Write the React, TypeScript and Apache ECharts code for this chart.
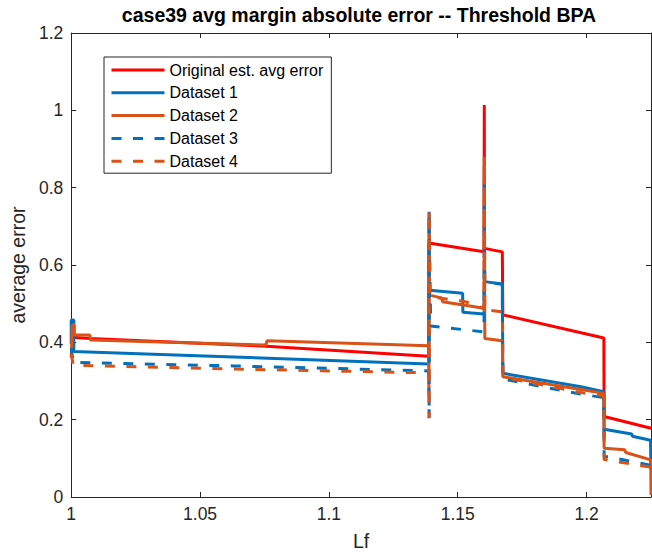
import React, { useEffect, useRef } from 'react';
import * as echarts from 'echarts';

// Axis ticks
const lfTicks = [1, 1.05, 1.1, 1.15, 1.2];
const errTicks = [0, 0.2, 0.4, 0.6, 0.8, 1, 1.2];

const seriesNames = [
  'Original est. avg error',
  'Dataset 1',
  'Dataset 2',
  'Dataset 3',
  'Dataset 4',
];

// [Lf, average error] step traces
const originalErr: [number, number][] = [
  [1.0, 0.413], [1.0074, 0.41], [1.0757, 0.39], [1.1387, 0.364],
  [1.1388, 0.364], [1.1388, 0.657], [1.1602, 0.634], [1.1603, 1.014],
  [1.1604, 0.643], [1.1673, 0.634], [1.1675, 0.471], [1.2067, 0.411],
  [1.2068, 0.208], [1.225, 0.178],
];

const dataset1Err: [number, number][] = [
  [1.0, 0.395], [1.0, 0.458], [1.001, 0.458], [1.001, 0.376], [1.063, 0.362],
  [1.1388, 0.344], [1.1389, 0.738], [1.139, 0.535], [1.1519, 0.527],
  [1.152, 0.478], [1.1602, 0.473], [1.1604, 0.557], [1.1673, 0.551],
  [1.1675, 0.32], [1.1978, 0.285], [1.2067, 0.272], [1.2068, 0.175],
  [1.2175, 0.163], [1.2178, 0.157], [1.2248, 0.147], [1.225, 0.07],
];

const dataset2Err: [number, number][] = [
  [1.0, 0.36], [1.0004, 0.445], [1.0012, 0.445], [1.0012, 0.419],
  [1.0072, 0.419], [1.0075, 0.406], [1.0755, 0.393], [1.076, 0.404],
  [1.1387, 0.391], [1.1388, 0.27], [1.1389, 0.736], [1.139, 0.522],
  [1.1437, 0.515], [1.1441, 0.505], [1.1602, 0.488], [1.1603, 0.88],
  [1.1605, 0.41], [1.1673, 0.404], [1.1675, 0.311], [1.1978, 0.278],
  [1.2067, 0.268], [1.2068, 0.126], [1.2148, 0.122], [1.2152, 0.115],
  [1.2249, 0.096], [1.225, 0.005],
];

const dataset3Err: [number, number][] = [
  [1.0, 0.385], [1.0008, 0.348], [1.063, 0.339], [1.1388, 0.326],
  [1.1389, 0.204], [1.1389, 0.73], [1.1395, 0.442], [1.1602, 0.427],
  [1.1603, 0.825], [1.1605, 0.556], [1.1673, 0.55], [1.1675, 0.305],
  [1.1978, 0.266], [1.2067, 0.257], [1.2068, 0.105], [1.2085, 0.104],
  [1.225, 0.082],
];

const dataset4Err: [number, number][] = [
  [1.0, 0.37], [1.0008, 0.341], [1.063, 0.331], [1.1388, 0.321],
  [1.1389, 0.204], [1.1389, 0.735], [1.1392, 0.518], [1.153, 0.505],
  [1.1602, 0.487], [1.1603, 0.86], [1.1605, 0.484], [1.1673, 0.479],
  [1.1675, 0.31], [1.1978, 0.27], [1.2067, 0.262], [1.2068, 0.097],
  [1.225, 0.077],
];

const traces = [originalErr, dataset1Err, dataset2Err, dataset3Err, dataset4Err];
const colors = ['#FF0000', '#0072BD', '#D95319', '#0072BD', '#D95319'];
const dashed = [false, false, false, true, true];

const FONT = 'Arial, "Liberation Sans", Helvetica, sans-serif';
const AXIS_COLOR = '#262626';

const fmt = (v: number) => String(Number(v.toFixed(2)));

const axisLine = { onZero: false, lineStyle: { color: AXIS_COLOR, width: 1 } };
const axisTick = { inside: true, length: 5, lineStyle: { color: AXIS_COLOR, width: 1 } };
const tickLabel = { color: AXIS_COLOR, fontFamily: FONT, fontSize: 17.5, margin: 8, formatter: fmt };
const nameStyle = { color: AXIS_COLOR, fontFamily: FONT, fontSize: 19.5 };

const lfMin = lfTicks[0];
const lfMax = 1.225;
const errMin = errTicks[0];
const errMax = errTicks[errTicks.length - 1];

const option: any = {
  animation: false,
  backgroundColor: '#ffffff',
  title: {
    text: 'case39 avg margin absolute error -- Threshold BPA',
    left: 359,
    top: 5,
    textAlign: 'center',
    padding: 0,
    textStyle: { fontFamily: FONT, fontSize: 19.5, fontWeight: 'bold', color: '#000000' },
  },
  grid: { left: 66, right: 1, top: 33, bottom: 59 },
  legend: {
    orient: 'vertical',
    left: 104,
    top: 57,
    itemWidth: 53,
    itemHeight: 20,
    itemGap: 2.8,
    padding: [3, 8, 2, 6],
    borderColor: AXIS_COLOR,
    borderWidth: 1,
    backgroundColor: '#ffffff',
    // line-only keys: hide the marker dot
    itemStyle: { color: 'rgba(0,0,0,0)', borderWidth: 0, opacity: 0 },
    lineStyle: { width: 3 },
    textStyle: { fontFamily: FONT, fontSize: 16, color: '#000000', lineHeight: 20 },
    data: seriesNames,
  },
  xAxis: [
    {
      type: 'value',
      position: 'bottom',
      min: lfMin,
      max: lfMax,
      interval: 0.05,
      name: 'Lf',
      nameLocation: 'middle',
      nameGap: 34,
      nameTextStyle: nameStyle,
      axisLine,
      axisTick,
      axisLabel: { ...tickLabel, showMaxLabel: false },
      splitLine: { show: false },
    },
    {
      type: 'value',
      position: 'top',
      min: lfMin,
      max: lfMax,
      interval: 0.05,
      axisLine,
      axisTick,
      axisLabel: { show: false },
      splitLine: { show: false },
    },
  ],
  yAxis: [
    {
      type: 'value',
      position: 'left',
      min: errMin,
      max: errMax,
      interval: 0.2,
      name: 'average error',
      nameLocation: 'middle',
      nameGap: 41,
      nameTextStyle: nameStyle,
      axisLine,
      axisTick,
      axisLabel: tickLabel,
      splitLine: { show: false },
    },
    {
      type: 'value',
      position: 'right',
      min: errMin,
      max: errMax,
      interval: 0.2,
      axisLine,
      axisTick,
      axisLabel: { show: false },
      splitLine: { show: false },
    },
  ],
  series: traces.map((data, i) => ({
    name: seriesNames[i],
    type: 'line',
    xAxisIndex: 0,
    yAxisIndex: 0,
    data,
    symbol: 'none',
    showSymbol: false,
    z: 2 + i,
    color: colors[i],
    lineStyle: {
      color: colors[i],
      width: 3,
      type: dashed[i] ? [10, 11.5] : 'solid',
      cap: 'butt',
    },
  })),
};

export default function App() {
  const ref = useRef<HTMLDivElement>(null);
  useEffect(() => {
    if (!ref.current) return;
    const chart = echarts.init(ref.current, null, { renderer: 'svg' });
    chart.setOption(option);
    return () => chart.dispose();
  }, []);
  return (
    <div
      ref={ref}
      style={{ position: 'absolute', left: 0, top: 0, width: 652, height: 556, background: '#ffffff' }}
    />
  );
}
